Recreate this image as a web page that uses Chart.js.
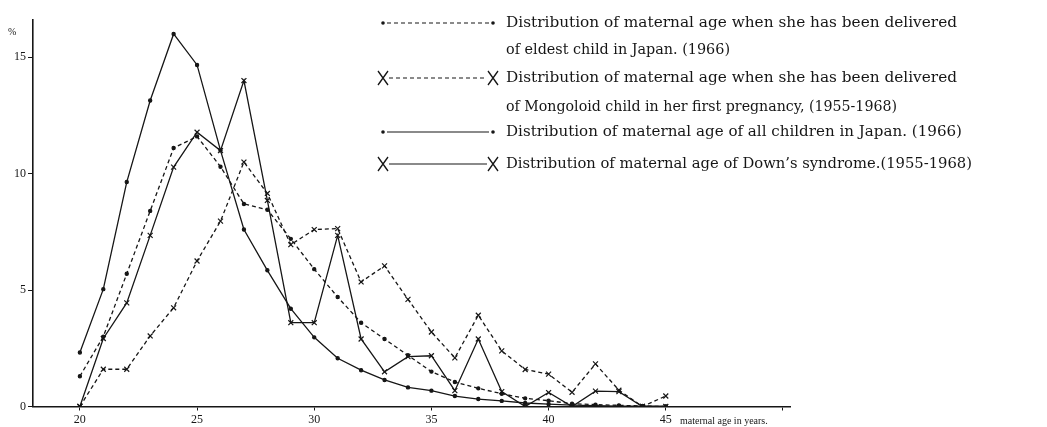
<!DOCTYPE html>
<html>
<head>
<meta charset="utf-8">
<script src="https://cdn.jsdelivr.net/npm/chart.js@4/dist/chart.umd.min.js"></script>
<style>
html,body{margin:0;padding:0;background:#fff;}
#wrap{position:relative;width:1047px;height:427px;}
</style>
</head>
<body>
<div id="wrap"><canvas id="c" width="1047" height="427"></canvas></div>
<script>
// ---- data ----
const ages = [20,21,22,23,24,25,26,27,28,29,30,31,32,33,34,35,36,37,38,39,40,41,42,43,44,45];
// eldest child in Japan (1966) - dashed, dots
const eldestJapan = [1.3,3.0,5.7,8.4,11.1,11.6,10.3,8.7,8.45,7.2,5.9,4.7,3.6,2.9,2.2,1.5,1.05,0.78,0.55,0.35,0.25,0.12,0.08,0.05,0.02,0.0];
// Mongoloid child in first pregnancy (1955-1968) - dashed, X
const mongoloidFirst = [0,1.6,1.6,3.03,4.24,6.25,7.96,10.5,9.15,6.95,7.6,7.64,5.35,6.04,4.6,3.2,2.09,3.92,2.39,1.59,1.39,0.61,1.83,0.7,0.0,0.45];
// all children in Japan (1966) - solid, dots
const allChildren = [2.32,5.04,9.64,13.14,16.0,14.67,11.0,7.6,5.85,4.2,2.97,2.07,1.56,1.14,0.82,0.68,0.45,0.32,0.24,0.15,0.1,0.06,0.04,0.02,0.01,0.0];
// Down's syndrome (1955-1968) - solid, X
const downSyndrome = [0,2.92,4.45,7.35,10.28,11.78,10.99,14.0,8.85,3.6,3.6,7.35,2.9,1.49,2.14,2.18,0.68,2.9,0.64,0,0.6,0,0.66,0.64,0,0];

const xTicks = [20,25,30,35,40,45,50];
const xTickLabels = ['20','25','30','35','40','45',''];
const yTicks = [0,5,10,15];
const yTickLabels = ['0','5','10','15'];

const legendLines = [
  ["Distribution of maternal age when she has been delivered", "of eldest child in Japan. (1966)"],
  ["Distribution of maternal age when she has been delivered", "of Mongoloid child in her first pregnancy, (1955-1968)"],
  ["Distribution of maternal age of all children in Japan. (1966)"],
  ["Distribution of maternal age of Down\u2019s syndrome.(1955-1968)"]
];
const xTitle = "maternal age in years.";
const yUnit = "%";

const INK = '#161616';
const SERIF = 'Liberation Serif';
const LEGEND_FONT = '"DejaVu Serif", "Liberation Serif", serif';

function pts(arr){ return ages.map((a,i)=>({x:a,y:arr[i]})); }

const styles = [
  {dash:[4,3], point:'circle', r:1.6},
  {dash:[4,3], point:'crossRot', r:3.5},
  {dash:[], point:'circle', r:1.6},
  {dash:[], point:'crossRot', r:3.5}
];
const series = [eldestJapan, mongoloidFirst, allChildren, downSyndrome];

const datasets = series.map((s,i)=>({
  label: legendLines[i].join(' '),
  data: pts(s),
  borderColor: INK,
  backgroundColor: INK,
  borderWidth: 1.3,
  borderDash: styles[i].dash,
  pointStyle: styles[i].point,
  pointRadius: styles[i].r,
  pointBorderWidth: 1.2,
  pointBorderColor: INK,
  pointBackgroundColor: INK,
  tension: 0,
  fill: false
}));

// legend layout (row centres and text widths in pixels)
const legendRowsY = [[23,50],[78,107],[132],[164]];
const legendTextW = [[451,224],[451,391],[456],[466]];

const legendPlugin = {
  id:'customLegend',
  afterDraw(chart){
    const ctx = chart.ctx;
    ctx.save();
    const x0 = 383, x1 = 493, tx = 506;
    ctx.font = '15.3px ' + LEGEND_FONT;
    ctx.fillStyle = INK;
    ctx.strokeStyle = INK;
    ctx.textBaseline = 'middle';
    legendLines.forEach((lines,i)=>{
      const y = legendRowsY[i][0];
      const st = styles[i];
      ctx.lineWidth = 1.2;
      ctx.setLineDash(st.dash);
      ctx.beginPath();
      const pad = st.point==='circle' ? 4 : 6;
      ctx.moveTo(x0+pad, y); ctx.lineTo(x1-pad, y);
      ctx.stroke();
      ctx.setLineDash([]);
      [x0,x1].forEach(px=>{
        if(st.point==='circle'){
          ctx.beginPath(); ctx.arc(px,y,1.8,0,Math.PI*2); ctx.fill();
        } else {
          ctx.lineWidth = 1.3;
          ctx.beginPath();
          ctx.moveTo(px-5,y-7); ctx.lineTo(px+5,y+7);
          ctx.moveTo(px+5,y-7); ctx.lineTo(px-5,y+7);
          ctx.stroke();
        }
      });
      lines.forEach((t,j)=>{
        const w = ctx.measureText(t).width;
        const sx = legendTextW[i][j] / w;
        ctx.save();
        ctx.translate(tx, legendRowsY[i][j]);
        ctx.scale(sx, 1);
        ctx.fillText(t, 0, 0);
        ctx.restore();
      });
    });
    // axis annotations
    ctx.font = '10px ' + SERIF;
    ctx.textBaseline = 'alphabetic';
    ctx.fillText(xTitle, 680, 424);
    ctx.font = '10px ' + SERIF;
    ctx.fillText(yUnit, 8, 35);
    ctx.restore();
  }
};

new Chart(document.getElementById('c'), {
  type:'line',
  data:{datasets},
  options:{
    responsive:false,
    animation:false,
    devicePixelRatio:1,
    layout:{padding:{left:0,top:20,right:257,bottom:0}},
    plugins:{legend:{display:false}, tooltip:{enabled:false}},
    scales:{
      x:{
        type:'linear', min:18, max:50.3,
        afterBuildTicks:(s)=>{ s.ticks = xTicks.map(v=>({value:v})); },
        afterFit:(s)=>{ s.height = 20.5; },
        ticks:{
          autoSkip:false, maxRotation:0, padding:2,
          callback:(v)=>{ const k = xTicks.indexOf(v); return k>=0 ? xTickLabels[k] : ''; },
          font:{family:SERIF, size:12}, color:INK
        },
        grid:{display:true, drawOnChartArea:false, drawTicks:true, tickLength:4, color:INK, lineWidth:1},
        border:{display:true, color:INK, width:1.6}
      },
      y:{
        type:'linear', min:0, max:16.6,
        afterBuildTicks:(s)=>{ s.ticks = yTicks.map(v=>({value:v})); },
        afterFit:(s)=>{ s.width = 33; },
        ticks:{
          padding:2,
          callback:(v)=>{ const k = yTicks.indexOf(v); return k>=0 ? yTickLabels[k] : ''; },
          font:{family:SERIF, size:12}, color:INK
        },
        grid:{display:true, drawOnChartArea:false, drawTicks:true, tickLength:5, color:INK, lineWidth:1},
        border:{display:true, color:INK, width:1.6}
      }
    }
  },
  plugins:[legendPlugin]
});
</script>
</body>
</html>
